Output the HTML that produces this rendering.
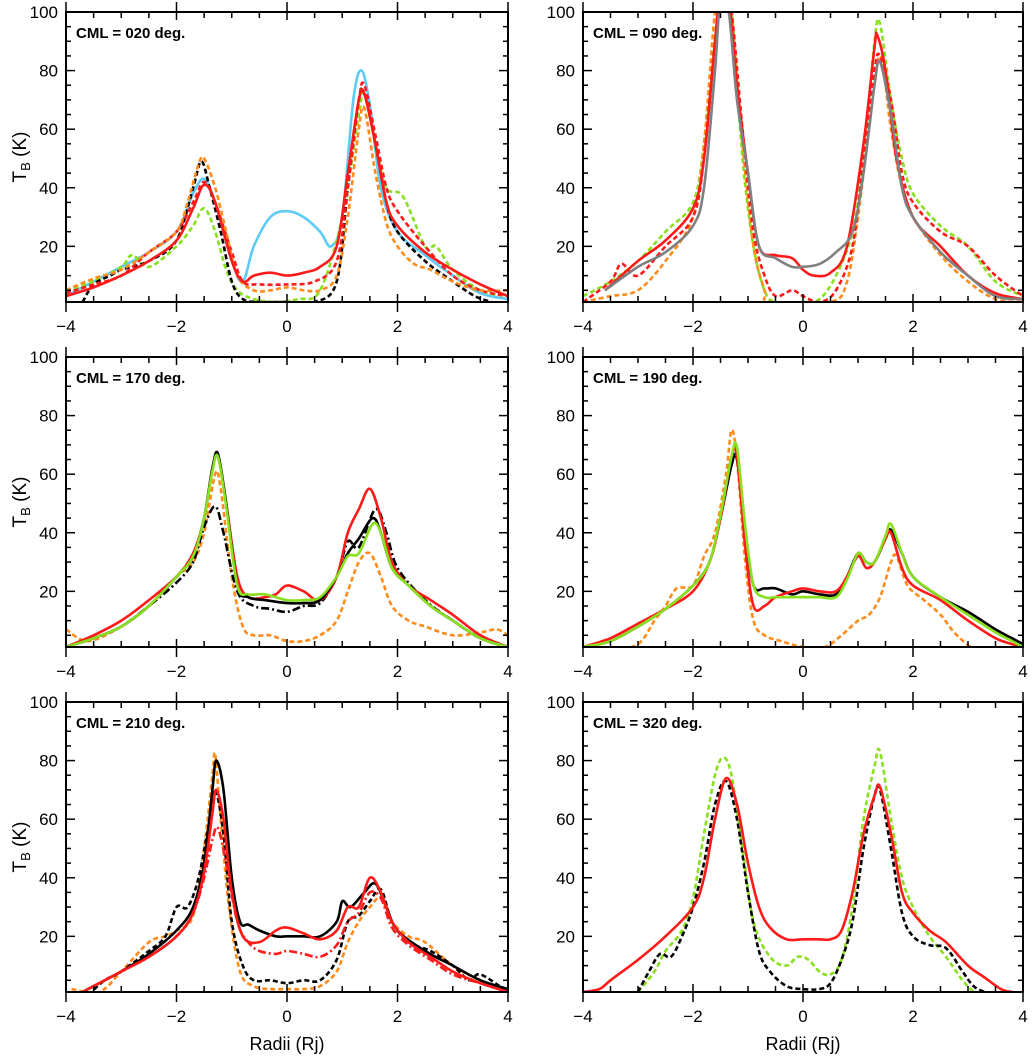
<!DOCTYPE html>
<html><head><meta charset="utf-8">
<style>
html,body{margin:0;padding:0;background:#fff;}
svg{display:block;font-family:"Liberation Sans",sans-serif;}
</style></head>
<body>
<svg id="chart" width="1036" height="1056" viewBox="0 0 1036 1056" xmlns="http://www.w3.org/2000/svg"></svg>
<script>
// ---- Data (x in Rj, y in K) ----
const xTicks = [-4,-2,0,2,4];
const yTicks = [20,40,60,80,100];
const panelTitles = ["CML = 020 deg.","CML = 090 deg.","CML = 170 deg.","CML = 190 deg.","CML = 210 deg.","CML = 320 deg."];

// Panel 1 (020)
const p1_cyan_x = [-4,-3.5,-3,-2.5,-2,-1.7,-1.5,-1.3,-1,-0.8,-0.6,-0.3,0,0.3,0.6,0.8,1.0,1.2,1.35,1.5,1.7,2,2.5,3,3.5,4];
const p1_cyan_y = [3,8,13,18,25,38,43,35,15,8,20,30,32,30,25,20,30,70,80,68,40,25,17,10,4,2];
const p1_red_x = [-4,-3.5,-3,-2.5,-2,-1.7,-1.5,-1.3,-1,-0.8,-0.6,-0.3,0,0.3,0.6,0.9,1.1,1.3,1.4,1.6,1.8,2,2.5,3,3.5,4];
const p1_red_y = [3,6,10,15,22,33,41,35,15,8,10,11,10,11,13,20,45,70,72,55,35,27,18,12,7,3];
const p1_blk_x = [-3.7,-3.5,-3.2,-3,-2.5,-2,-1.7,-1.55,-1.4,-1.2,-1,-0.8,-0.5,0,0.5,0.9,1.1,1.3,1.4,1.6,1.8,2,2.5,3,3.4,3.7];
const p1_blk_y = [1,7,10,12,15,22,40,49,40,25,8,2,1,1,1,8,40,70,72,55,35,25,15,8,3,1];
const p1_org_x = [-4,-3.5,-3,-2.5,-2,-1.8,-1.6,-1.5,-1.3,-1.1,-0.9,-0.6,-0.3,0,0.3,0.6,0.9,1.1,1.3,1.4,1.6,1.8,2,2.3,2.6,3,3.5,4];
const p1_org_y = [5,9,12,18,25,35,48,50,40,25,10,5,5,6,5,5,10,30,60,67,45,28,20,14,12,8,5,5];
const p1_grn_x = [-4,-3.5,-3,-2.8,-2.5,-2,-1.7,-1.5,-1.3,-1.1,-0.9,-0.6,-0.2,0.2,0.6,1,1.3,1.4,1.6,1.8,2.1,2.5,2.7,3,3.5,4];
const p1_grn_y = [5,8,13,17,13,20,27,33,25,12,5,2,1,2,5,30,65,72,55,40,37,20,20,12,5,3];
const p1_rdd_x = [-4,-3.5,-3,-2.5,-2,-1.7,-1.5,-1.3,-1,-0.8,-0.5,0,0.5,0.9,1.1,1.3,1.4,1.6,1.8,2,2.5,3,3.5,4];
const p1_rdd_y = [4,7,10,18,25,35,42,35,18,8,7,7,8,15,40,70,75,58,40,32,20,10,5,3];

// Panel 2 (090)
const p2_gry_x = [-3.6,-3,-2.5,-2,-1.8,-1.6,-1.5,-1.35,-1.2,-1,-0.8,-0.5,-0.2,0,0.3,0.6,0.9,1.1,1.3,1.4,1.6,1.8,2,2.5,3,3.5,4];
const p2_gry_y = [5,13,18,27,40,80,105,100,70,45,20,16,13,13,14,18,25,45,75,83,65,40,30,18,10,3,2];
const p2_red_x = [-3.6,-3,-2.5,-2,-1.8,-1.6,-1.5,-1.35,-1.2,-1,-0.8,-0.5,-0.2,0,0.2,0.5,0.8,1.1,1.3,1.35,1.5,1.7,2,2.5,3,3.5,4];
const p2_red_y = [5,15,22,33,50,90,108,105,75,45,20,17,16,12,10,11,20,55,88,92,80,50,30,20,10,4,2];
const p2_grn_x = [-4,-3.5,-3,-2.5,-2,-1.8,-1.6,-1.5,-1.3,-1.1,-0.9,-0.7,-0.5,0,0.3,0.6,0.9,1.1,1.3,1.4,1.6,1.8,2,2.5,3,3.5,4];
const p2_grn_y = [3,8,15,25,35,55,90,105,100,50,20,5,1,1,2,10,25,50,90,96,70,50,38,27,20,8,3];
const p2_org_x = [-4,-3.5,-3,-2.5,-2,-1.8,-1.6,-1.45,-1.3,-1.1,-0.9,-0.7,-0.6,0.5,0.8,1,1.2,1.4,1.6,1.8,2,2.5,3,3.5,4];
const p2_org_y = [1,3,5,15,30,55,100,108,100,55,20,5,1,1,8,30,60,85,60,40,30,17,8,2,1];
const p2_rdd_x = [-4,-3.5,-3.3,-3,-2.5,-2,-1.8,-1.6,-1.45,-1.3,-1.1,-0.9,-0.7,-0.5,-0.2,0,0.3,0.6,0.9,1.1,1.3,1.4,1.6,1.8,2,2.5,3,3.5,4];
const p2_rdd_y = [1,8,14,10,20,30,50,90,108,100,60,25,10,3,5,3,1,5,20,50,80,85,70,45,35,25,20,10,3];

// Panel 3 (170)
const p3_red_x = [-4,-3.5,-3,-2.5,-2,-1.7,-1.5,-1.35,-1.25,-1.1,-0.9,-0.7,-0.4,-0.2,0,0.3,0.6,0.9,1.1,1.3,1.5,1.7,1.9,2.2,2.6,3,3.5,4];
const p3_red_y = [1,5,10,17,25,33,45,62,66,50,25,18,18,19,22,20,17,25,40,48,55,45,30,22,17,12,5,1];
const p3_blk_x = [-4,-3.5,-3,-2.5,-2,-1.7,-1.5,-1.35,-1.25,-1.1,-0.9,-0.7,-0.4,0,0.3,0.6,0.9,1.1,1.3,1.55,1.7,1.9,2.2,2.6,3,3.5,4];
const p3_blk_y = [1,4,8,15,25,32,45,62,67,50,22,18,17,16,16,17,25,33,38,45,40,28,22,15,10,4,1];
const p3_grn_y = [1,4,8,15,25,32,45,61,66,49,22,19,19,17,17,18,25,32,33,43,40,28,22,15,10,4,1];
const p3_bdd_x = [-4,-3.5,-3,-2.5,-2,-1.7,-1.5,-1.3,-1.15,-0.9,-0.6,-0.3,0,0.3,0.6,0.9,1.1,1.3,1.6,1.8,2,2.5,3,3.5,4];
const p3_bdd_y = [1,4,8,15,23,30,42,49,40,20,15,14,13,15,16,25,37,35,48,40,28,17,10,4,1];
const p3_org_x = [-4,-3.6,-3,-2.5,-2,-1.7,-1.5,-1.3,-1.2,-1,-0.8,-0.6,-0.3,0,0.3,0.6,0.9,1.1,1.3,1.5,1.7,1.9,2.2,2.5,3,3.5,3.8,4];
const p3_org_y = [7,3,8,15,25,30,40,60,55,25,8,5,5,3,3,5,10,20,30,33,25,15,10,8,5,6,7,5];

// Panel 4 (190)
const p4_x = [-4,-3.5,-3,-2.5,-2,-1.7,-1.5,-1.3,-1.2,-1.05,-0.9,-0.7,-0.5,-0.2,0,0.3,0.6,0.8,1,1.15,1.3,1.5,1.6,1.8,2,2.5,3,3.5,3.8,4];
const p4_blk_y = [1,3,8,14,22,30,45,63,65,40,22,21,21,19,20,19,19,25,33,30,30,38,41,33,25,18,13,7,4,2];
const p4_grn_y = [1,3,8,14,22,30,46,66,69,42,22,18,18,18,18,18,18,24,33,30,30,39,43,33,25,18,12,6,3,1];
const p4_red_y = [1,4,9,14,20,30,45,66,66,35,15,15,18,20,21,20,20,25,32,28,30,38,40,28,22,17,10,4,2,1];
const p4_org_x = [-4,-3.5,-3,-2.7,-2.5,-2.3,-2,-1.8,-1.6,-1.4,-1.3,-1.2,-1.05,-0.9,-0.7,-0.4,0,0.4,0.7,1,1.2,1.4,1.6,1.7,1.9,2.2,2.5,2.8,3.2,4];
const p4_org_y = [0,0,2,10,15,21,22,32,40,60,75,65,30,10,5,3,1,1,5,10,12,18,30,32,22,17,12,5,0,0];

// Panel 5 (210)
const p5_blk_x = [-3.8,-3.5,-3,-2.5,-2,-1.7,-1.5,-1.35,-1.28,-1.15,-1,-0.85,-0.7,-0.5,-0.2,0,0.3,0.6,0.9,1,1.15,1.4,1.6,1.8,2,2.5,3,3.5,4];
const p5_blk_y = [0,3,8,14,22,30,45,70,80,70,40,25,24,22,20,20,20,20,25,32,30,35,38,30,22,15,10,5,2];
const p5_red_x = [-3.8,-3.5,-3,-2.5,-2,-1.7,-1.5,-1.35,-1.28,-1.15,-1,-0.8,-0.5,-0.2,0,0.3,0.6,0.9,1.1,1.3,1.5,1.7,1.9,2.2,2.6,3,3.5,4];
const p5_red_y = [0,3,8,13,20,28,42,62,70,60,35,20,18,22,23,21,19,22,30,30,40,35,25,18,13,8,4,1];
const p5_rdd_x = [-3.8,-3,-2.5,-2,-1.7,-1.5,-1.35,-1.25,-1.1,-0.9,-0.7,-0.5,-0.2,0,0.3,0.6,0.9,1.1,1.3,1.5,1.7,1.9,2.2,2.6,3,3.5,4];
const p5_rdd_y = [0,8,13,20,28,40,53,57,45,25,18,15,14,15,14,13,17,25,28,35,33,23,17,12,7,4,1];
const p5_bkd_x = [-3.6,-3.3,-3,-2.5,-2.2,-2,-1.8,-1.6,-1.4,-1.3,-1.15,-1,-0.8,-0.6,-0.3,0,0.3,0.6,0.9,1.1,1.3,1.5,1.7,1.9,2.2,2.6,3,3.3,3.5,4];
const p5_bkd_y = [0,5,8,15,20,30,30,40,60,70,55,25,10,5,5,4,5,5,12,25,27,32,36,25,18,15,10,5,7,1];
const p5_org_x = [-3.9,-3.4,-3,-2.5,-2.2,-2,-1.7,-1.5,-1.35,-1.3,-1.2,-1.05,-0.85,-0.6,-0.3,0,0.3,0.6,0.9,1.1,1.3,1.5,1.7,1.9,2.2,2.5,3,3.5,4];
const p5_org_y = [2,1,8,18,20,22,27,50,75,82,60,30,8,3,2,2,2,3,8,18,25,30,33,25,20,18,10,5,1];

// Panel 6 (320)
const p6_red_x = [-4,-3.7,-3.5,-3,-2.5,-2,-1.8,-1.6,-1.4,-1.2,-1,-0.8,-0.6,-0.3,0,0.3,0.5,0.7,0.9,1.1,1.3,1.4,1.6,1.8,2,2.3,2.6,3,3.3,3.6,3.8];
const p6_red_y = [1,2,5,12,20,30,40,60,74,65,45,30,23,19,19,19,19,22,35,55,68,71,55,35,28,22,18,10,6,2,1];
const p6_blk_x = [-3,-2.8,-2.6,-2.4,-2.2,-2,-1.8,-1.6,-1.4,-1.2,-1,-0.8,-0.6,-0.3,0,0.3,0.5,0.7,0.9,1.1,1.3,1.4,1.6,1.8,2,2.3,2.6,2.9,3.1,3.3];
const p6_blk_y = [1,8,14,13,20,30,45,65,73,60,35,15,8,3,2,2,4,12,25,50,68,70,50,28,20,17,16,8,3,1];
const p6_grn_x = [-3,-2.7,-2.5,-2.2,-2,-1.8,-1.6,-1.45,-1.3,-1.1,-0.9,-0.6,-0.3,-0.1,0.1,0.3,0.5,0.7,0.9,1.1,1.3,1.4,1.6,1.8,2,2.3,2.6,2.9,3.1];
const p6_grn_y = [1,8,15,22,33,55,75,81,75,50,25,13,10,13,12,8,7,12,30,60,78,83,60,40,30,20,13,5,1];

const C = {red:"#ff1a1a", cyan:"#5ecbf5", green:"#88e01e", orange:"#ff8c1a", gray:"#808080", black:"#000"};
const panels = [
 {title:panelTitles[0], col:0,row:0, series:[
  {n:"cyan-solid",x:p1_cyan_x,y:p1_cyan_y,c:C.cyan,d:""},
  {n:"green-dashed",x:p1_grn_x,y:p1_grn_y,c:C.green,d:"5,3"},
  {n:"black-dashed",x:p1_blk_x,y:p1_blk_y,c:C.black,d:"5,3"},
  {n:"red-dashed",x:p1_rdd_x,y:p1_rdd_y,c:C.red,d:"5,3"},
  {n:"orange-dashed",x:p1_org_x,y:p1_org_y,c:C.orange,d:"5,3"},
  {n:"red-solid",x:p1_red_x,y:p1_red_y,c:C.red,d:""}]},
 {title:panelTitles[1], col:1,row:0, series:[
  {n:"green-dashed",x:p2_grn_x,y:p2_grn_y,c:C.green,d:"5,3"},
  {n:"orange-dashed",x:p2_org_x,y:p2_org_y,c:C.orange,d:"5,3"},
  {n:"red-dashed",x:p2_rdd_x,y:p2_rdd_y,c:C.red,d:"5,3"},
  {n:"red-solid",x:p2_red_x,y:p2_red_y,c:C.red,d:""},
  {n:"gray-solid",x:p2_gry_x,y:p2_gry_y,c:C.gray,d:""}]},
 {title:panelTitles[2], col:0,row:1, series:[
  {n:"orange-dashed",x:p3_org_x,y:p3_org_y,c:C.orange,d:"5,3"},
  {n:"black-dashdot",x:p3_bdd_x,y:p3_bdd_y,c:C.black,d:"8,3,2,3"},
  {n:"red-solid",x:p3_red_x,y:p3_red_y,c:C.red,d:""},
  {n:"black-solid",x:p3_blk_x,y:p3_blk_y,c:C.black,d:""},
  {n:"green-solid",x:p3_blk_x,y:p3_grn_y,c:C.green,d:""}]},
 {title:panelTitles[3], col:1,row:1, series:[
  {n:"orange-dashed",x:p4_org_x,y:p4_org_y,c:C.orange,d:"5,3"},
  {n:"black-solid",x:p4_x,y:p4_blk_y,c:C.black,d:""},
  {n:"red-solid",x:p4_x,y:p4_red_y,c:C.red,d:""},
  {n:"green-solid",x:p4_x,y:p4_grn_y,c:C.green,d:""}]},
 {title:panelTitles[4], col:0,row:2, series:[
  {n:"orange-dashed",x:p5_org_x,y:p5_org_y,c:C.orange,d:"5,3"},
  {n:"black-dashed",x:p5_bkd_x,y:p5_bkd_y,c:C.black,d:"5,3"},
  {n:"black-solid",x:p5_blk_x,y:p5_blk_y,c:C.black,d:""},
  {n:"red-dashdot",x:p5_rdd_x,y:p5_rdd_y,c:C.red,d:"8,3,2,3"},
  {n:"red-solid",x:p5_red_x,y:p5_red_y,c:C.red,d:""}]},
 {title:panelTitles[5], col:1,row:2, series:[
  {n:"green-dashed",x:p6_grn_x,y:p6_grn_y,c:C.green,d:"5,3"},
  {n:"black-dashed",x:p6_blk_x,y:p6_blk_y,c:C.black,d:"5,3"},
  {n:"red-solid",x:p6_red_x,y:p6_red_y,c:C.red,d:""}]}
];

const NS = "http://www.w3.org/2000/svg";
const svg = document.getElementById("chart");
function mk(tag, attrs, parent){ const e=document.createElementNS(NS,tag); for(const k in attrs) e.setAttribute(k,attrs[k]); (parent||svg).appendChild(e); return e; }
const colX = [[66,508],[583,1023]];
const rowY = [[12,302],[357,647],[702,992]];

function smoothPath(pts){
  let d = "M"+pts[0][0].toFixed(1)+","+pts[0][1].toFixed(1);
  for(let i=0;i<pts.length-1;i++){
    const p0=pts[Math.max(0,i-1)], p1=pts[i], p2=pts[i+1], p3=pts[Math.min(pts.length-1,i+2)];
    const t=1/6;
    const c1=[p1[0]+(p2[0]-p0[0])*t, p1[1]+(p2[1]-p0[1])*t];
    const c2=[p2[0]-(p3[0]-p1[0])*t, p2[1]-(p3[1]-p1[1])*t];
    d+=" C"+c1[0].toFixed(1)+","+c1[1].toFixed(1)+" "+c2[0].toFixed(1)+","+c2[1].toFixed(1)+" "+p2[0].toFixed(1)+","+p2[1].toFixed(1);
  }
  return d;
}

panels.forEach((p,pi)=>{
  const [x0,x1]=colX[p.col], [y0,y1]=rowY[p.row];
  const sx = v => x0 + (v+4)/8*(x1-x0);
  const sy = v => y1 - (v-1)/99*(y1-y0);
  const g = mk("g",{});
  
  
  const cp = mk("clipPath",{id:"clip"+pi},g);
  mk("rect",{x:x0,y:y0,width:x1-x0,height:y1-y0},cp);
  const sg = mk("g",{"clip-path":"url(#clip"+pi+")"},g);
  p.series.forEach(s=>{
    const pts = s.x.map((xv,i)=>[sx(xv), sy(s.y[i])]);
    const path = mk("path",{d:smoothPath(pts),fill:"none",stroke:s.c,"stroke-width":2.6,"stroke-dasharray":s.d||"none","stroke-linejoin":"round"},sg);
    
    
  });
  const frame = mk("rect",{x:x0,y:y0,width:x1-x0,height:y1-y0,fill:"none",stroke:"#000","stroke-width":2},g);
  
  
  // y ticks
  for(let v=5; v<100; v+=5){
    const major = v%20===0;
    const L = major?9:5;
    mk("line",{x1:x0,x2:x0+L,y1:sy(v),y2:sy(v),stroke:"#000","stroke-width":1.5},g);
    mk("line",{x1:x1,x2:x1-L,y1:sy(v),y2:sy(v),stroke:"#000","stroke-width":1.5},g);
  }
  yTicks.forEach(v=>{
    const t = mk("text",{x:x0-8,y:sy(v)+6,"text-anchor":"end","font-size":17},g);
    t.textContent = v;
    
    
  });
  // x ticks
  for(let v=-4; v<=4.001; v+=0.5){
    const major = Math.abs(v-Math.round(v/2)*2)<1e-6;
    const X = sx(v);
    if(major){
      mk("line",{x1:X,x2:X,y1:y1,y2:y1+10,stroke:"#000","stroke-width":1.5},g);
      mk("line",{x1:X,x2:X,y1:y0,y2:y0-10,stroke:"#000","stroke-width":1.5},g);
      mk("line",{x1:X,x2:X,y1:y1,y2:y1-8,stroke:"#000","stroke-width":1.5},g);
      mk("line",{x1:X,x2:X,y1:y0,y2:y0+8,stroke:"#000","stroke-width":1.5},g);
    } else {
      mk("line",{x1:X,x2:X,y1:y1,y2:y1-6,stroke:"#000","stroke-width":1.5},g);
      mk("line",{x1:X,x2:X,y1:y0,y2:y0+6,stroke:"#000","stroke-width":1.5},g);
    }
  }
  xTicks.forEach(v=>{
    const t = mk("text",{x:sx(v),y:y1+30,"text-anchor":"middle","font-size":17},g);
    t.textContent = v<0 ? "\u2212"+Math.abs(v) : String(v);
    
    
  });
  const tt = mk("text",{x:x0+10,y:y0+26,"font-size":15,"font-weight":"bold"},g);
  tt.textContent = p.title;
  
  
  if(p.col===0){
    const yc = (y0+y1)/2;
    const yt = mk("text",{x:0,y:0,"font-size":19,transform:"translate(26,"+yc+") rotate(-90)","text-anchor":"middle"},g);
    
    
    yt.innerHTML = 'T<tspan font-size="13" dy="4">B</tspan><tspan dy="-4"> (K)</tspan>';
  }
  if(p.row===2){
    const xt = mk("text",{x:(x0+x1)/2,y:1050,"text-anchor":"middle","font-size":18},g);
    xt.textContent = "Radii (Rj)";
    
    
  }
});
</script>
</body></html>
